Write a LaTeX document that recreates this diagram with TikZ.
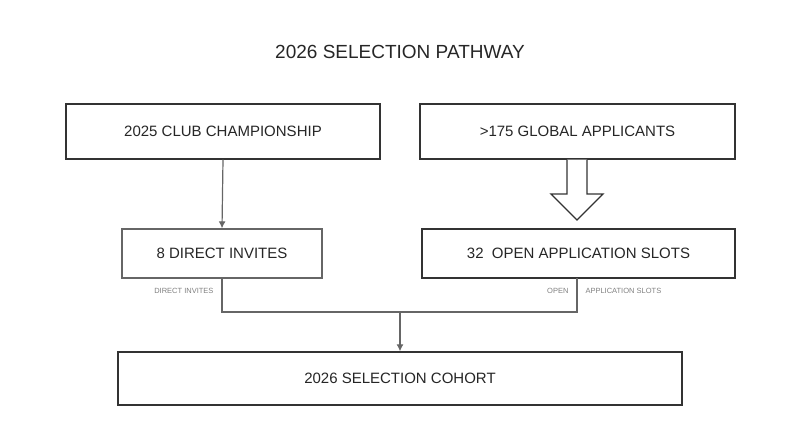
\documentclass[tikz,border=0pt]{standalone}
\usepackage{fontspec}
\setmainfont{Liberation Sans}
\usetikzlibrary{arrows.meta}
\begin{document}
\begin{tikzpicture}[x=1pt,y=-1pt,
  box/.style={draw=black!80,line width=1.3pt,fill=white,inner sep=0pt,font=\fontsize{15}{18}\selectfont,text=black!85},
  conn/.style={draw=black!60,line width=1.2pt},
  small/.style={font=\fontsize{7.5}{9}\selectfont,text=black!50}]
\useasboundingbox (0,0) rectangle (800,447);
\node[font=\fontsize{19}{22}\selectfont,text=black!85] (title) at (400,52) {2026 SELECTION PATHWAY};
\node[box,minimum width=314pt,minimum height=55pt] (tl) at (223,131.5) {2025 CLUB CHAMPIONSHIP};
\node[box,minimum width=315pt,minimum height=55pt] (tr) at (577.5,131.5) {>175 GLOBAL APPLICANTS};
\node[box,draw=black!60,minimum width=200pt,minimum height=49pt] (ml) at (222,253.5) {8 DIRECT INVITES};
\node[box,minimum width=313pt,minimum height=49pt] (mr) at (578.5,253.5) {32\ \ OPEN APPLICATION SLOTS};
\node[box,minimum width=564pt,minimum height=53pt] (bt) at (400,378.5) {2026 SELECTION COHORT};
\coordinate (j) at (400,312);
\draw[conn,-{Latex[length=7pt,width=7pt]}] (tl.south) -- (ml.north);
\draw[conn] (222,278) -- (222,312) -- (577,312) -- (577,278);
\draw[conn,-{Latex[length=7pt,width=7pt]}] (j) -- (bt.north);
\draw[draw=black!80,line width=1.3pt,fill=white] (567,159.5) -- (567,194) -- (551,194) -- (577,220) -- (603,194) -- (587,194) -- (587,159.5);
\node[small,anchor=east] (l1) at (217,291) {DIRECT INVITES};
\node[small,anchor=east] (l2) at (572,291) {OPEN};
\node[small,anchor=west] (l3) at (582,291) {APPLICATION SLOTS};
\end{tikzpicture}
\end{document}
